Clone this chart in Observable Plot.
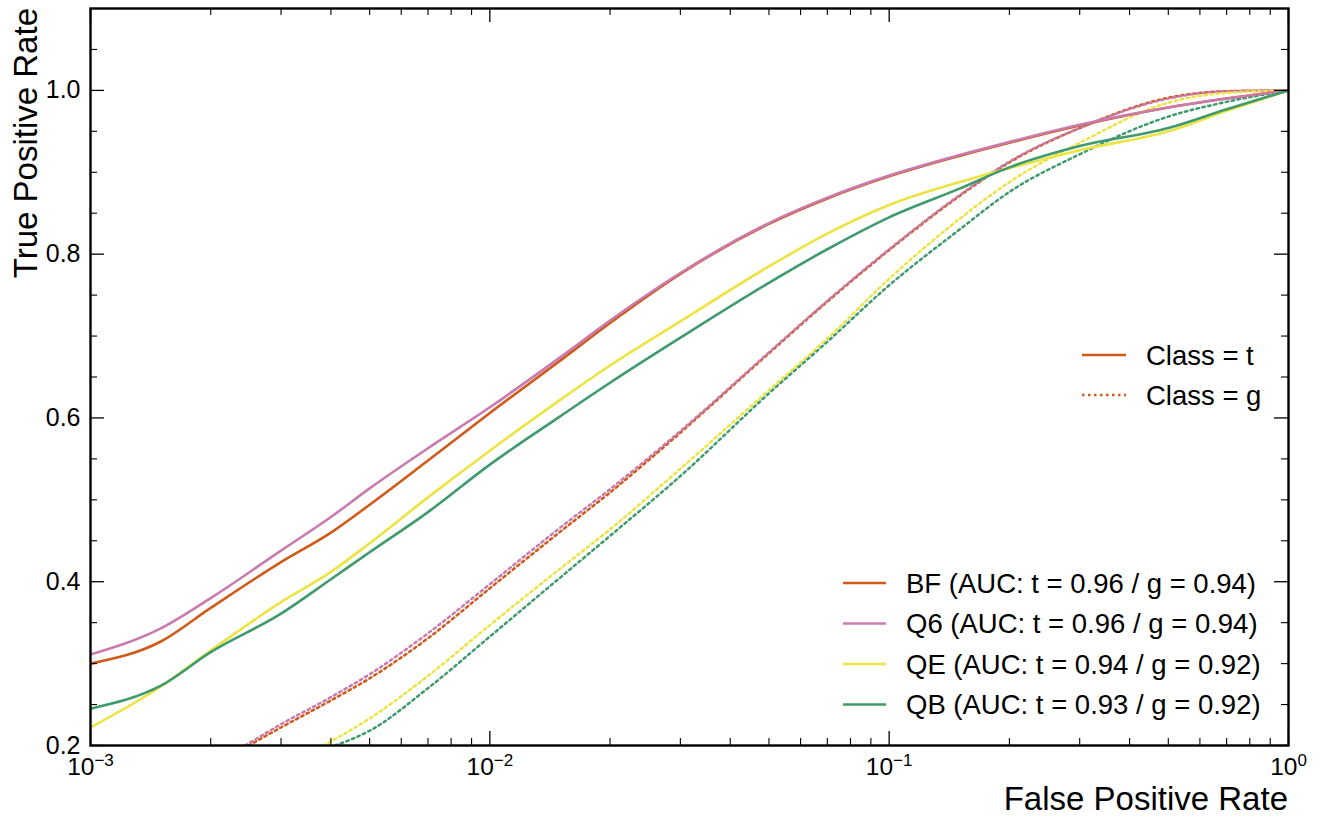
<!DOCTYPE html>
<html><head><meta charset="utf-8">
<script src="https://cdn.jsdelivr.net/npm/d3@7"></script>
<script src="https://cdn.jsdelivr.net/npm/@observablehq/plot@0.6"></script>
<style>
body{margin:0;background:#fff}
#chart svg{font-family:"Liberation Sans",Arial,Helvetica,sans-serif;background:#fff}
</style>
</head><body><div id="chart"></div>
<script>
// ---- data ----
const models = ["BF", "Q6", "QE", "QB"];
const modelColors = ["#cf5a1a", "#c97bad", "#ebe443", "#3f9a6e"];
const aucT = ["0.96", "0.96", "0.94", "0.93"];
const aucG = ["0.94", "0.94", "0.92", "0.92"];

// class t (solid)
const fprT = [0.001,0.0015,0.002,0.003,0.004,0.005,0.007,0.01,0.015,0.02,0.03,0.05,0.07,0.1,0.15,0.2,0.3,0.5,0.7,1.0];
const tprBF_t = [0.300,0.327,0.368,0.424,0.460,0.494,0.548,0.606,0.670,0.716,0.776,0.837,0.868,0.895,0.920,0.936,0.957,0.979,0.990,1.0];
const tprQ6_t = [0.311,0.343,0.380,0.438,0.479,0.514,0.563,0.613,0.674,0.719,0.777,0.838,0.869,0.896,0.921,0.937,0.958,0.979,0.990,1.0];
const tprQE_t = [0.222,0.272,0.316,0.375,0.412,0.447,0.503,0.560,0.622,0.664,0.718,0.785,0.825,0.860,0.888,0.905,0.927,0.950,0.975,1.0];
const tprQB_t = [0.245,0.273,0.314,0.361,0.403,0.436,0.485,0.543,0.602,0.643,0.698,0.765,0.806,0.845,0.880,0.906,0.932,0.954,0.977,1.0];

// class g (dotted)
const fprBF_g = [0.00249,0.003,0.004,0.005,0.007,0.01,0.015,0.02,0.03,0.05,0.07,0.1,0.15,0.2,0.3,0.5,0.7,1.0];
const tprBF_g = [0.200,0.222,0.255,0.282,0.331,0.392,0.461,0.509,0.582,0.679,0.742,0.805,0.871,0.912,0.954,0.991,0.999,1.0];
const fprQ6_g = [0.00244,0.003,0.004,0.005,0.007,0.01,0.015,0.02,0.03,0.05,0.07,0.1,0.15,0.2,0.3,0.5,0.7,1.0];
const tprQ6_g = [0.200,0.226,0.259,0.287,0.337,0.397,0.466,0.513,0.584,0.680,0.743,0.806,0.872,0.913,0.954,0.990,0.999,1.0];
const fprQE_g = [0.00383,0.005,0.007,0.01,0.015,0.02,0.03,0.05,0.07,0.1,0.15,0.2,0.3,0.5,0.7,1.0];
const tprQE_g = [0.200,0.233,0.285,0.347,0.416,0.464,0.538,0.634,0.697,0.770,0.843,0.888,0.936,0.985,0.997,1.0];
const fprQB_g = [0.0041,0.005,0.007,0.01,0.015,0.02,0.03,0.05,0.07,0.1,0.15,0.2,0.3,0.5,0.7,1.0];
const tprQB_g = [0.200,0.218,0.270,0.333,0.405,0.456,0.529,0.630,0.693,0.762,0.830,0.876,0.922,0.968,0.986,1.0];

// ticks
const xMajor = [0.001, 0.01, 0.1, 1];
const xMajorExp = ["\u22123", "\u22122", "\u22121", "0"];
const xMinor = [2,3,4,5,6,7,8,9].flatMap(m => [m*0.001, m*0.01, m*0.1]);
const yMajor = [0.2, 0.4, 0.6, 0.8, 1.0];
const yMinor = [0.25,0.3,0.35,0.45,0.5,0.55,0.65,0.7,0.75,0.85,0.9,0.95,1.05];
const classLabels = ["Class = t", "Class = g"];

// ---- build tables ----
const solidRows = [];
const dottedRows = [];
const tT = [tprBF_t, tprQ6_t, tprQE_t, tprQB_t];
const fG = [fprBF_g, fprQ6_g, fprQE_g, fprQB_g];
const tG = [tprBF_g, tprQ6_g, tprQE_g, tprQB_g];
models.forEach((m, i) => {
  fprT.forEach((f, j) => solidRows.push({model: m, fpr: f, tpr: tT[i][j]}));
  fG[i].forEach((f, j) => dottedRows.push({model: m, fpr: f, tpr: tG[i][j]}));
});
const expOf = new Map(xMajor.map((v, i) => [v, xMajorExp[i]]));

const W = 1323, H = 816, mL = 90, mR = 35, mT = 8, mB = 71;
const innerW = W - mL - mR, innerH = H - mT - mB;
const majLen = 14, minLen = 7;

const plot = Plot.plot({
  width: W, height: H,
  marginLeft: mL, marginRight: mR, marginTop: mT, marginBottom: mB,
  x: {type: "log", domain: [0.001, 1]},
  y: {domain: [0.2, 1.1]},
  color: {domain: models, range: modelColors},
  style: {fontFamily: '"Liberation Sans", Arial, sans-serif', background: "#fff"},
  marks: [
    Plot.line(dottedRows, {x: "fpr", y: "tpr", z: "model", stroke: "model", strokeWidth: 2.5,
      strokeDasharray: "2.5,3.5", curve: "monotone-x", clip: true}),
    Plot.line(solidRows, {x: "fpr", y: "tpr", z: "model", stroke: "model", strokeWidth: 2.6,
      curve: "monotone-x", clip: true}),
    Plot.tickX(xMajor, {x: d => d, insetTop: innerH - majLen, stroke: "black", strokeWidth: 1.3}),
    Plot.tickX(xMajor, {x: d => d, insetBottom: innerH - majLen, stroke: "black", strokeWidth: 1.3}),
    Plot.tickX(xMinor, {x: d => d, insetTop: innerH - minLen, stroke: "black", strokeWidth: 1.1}),
    Plot.tickX(xMinor, {x: d => d, insetBottom: innerH - minLen, stroke: "black", strokeWidth: 1.1}),
    Plot.tickY(yMajor, {y: d => d, insetRight: innerW - majLen, stroke: "black", strokeWidth: 1.3}),
    Plot.tickY(yMajor, {y: d => d, insetLeft: innerW - majLen, stroke: "black", strokeWidth: 1.3}),
    Plot.tickY(yMinor, {y: d => d, insetRight: innerW - minLen, stroke: "black", strokeWidth: 1.1}),
    Plot.tickY(yMinor, {y: d => d, insetLeft: innerW - minLen, stroke: "black", strokeWidth: 1.1}),
    Plot.axisY(yMajor, {anchor: "left", tickSize: 0, tickPadding: 10, fontSize: 25, label: null,
      tickFormat: d => d.toFixed(1), color: "black"}),
    Plot.axisX(xMajor, {anchor: "bottom", tickSize: 0, tickPadding: 12, fontSize: 24.5, label: null,
      tickFormat: d => "10^" + expOf.get(d), color: "black"}),
    Plot.frame({stroke: "black", strokeWidth: 2.4})
  ]
});

const svg = d3.select(plot);
svg.selectAll('g[aria-label="y-axis tick label"]').attr("font-size", 25);
svg.selectAll('g[aria-label="y-axis tick label"] text').style("font-size", "25px");
svg.selectAll('g[aria-label="x-axis tick label"]').attr("font-size", 24.5);
svg.selectAll('g[aria-label="x-axis tick label"] text').each(function() {
  const t = d3.select(this);
  const parts = t.text().split("^");
  t.text(null).style("font-size", "24.5px");
  t.append("tspan").text(parts[0]);
  t.append("tspan").attr("dy", "-0.5em").style("font-size", "17px").text(parts[1]);
});

// axis titles
svg.append("text").attr("x", W - mR).attr("y", 810).attr("text-anchor", "end")
  .style("font-size", "33px").attr("fill", "black").text("False Positive Rate");
svg.append("text").attr("transform", `translate(37,${mT}) rotate(-90)`).attr("text-anchor", "end")
  .style("font-size", "33px").attr("fill", "black").text("True Positive Rate");

// model legend
const lg = svg.append("g");
models.forEach((m, i) => {
  const y = 583 + i * 40.5;
  lg.append("line").attr("x1", 843).attr("x2", 886).attr("y1", y).attr("y2", y)
    .attr("stroke", modelColors[i]).attr("stroke-width", 2.6);
  lg.append("text").attr("x", 906).attr("y", y).attr("dy", "0.36em").attr("text-anchor", "start")
    .style("font-size", "27.5px").attr("fill", "black")
    .text(`${m} (AUC: t = ${aucT[i]} / g = ${aucG[i]})`);
});
// class legend
const cg = svg.append("g");
classLabels.forEach((c, i) => {
  const y = 355 + i * 40;
  cg.append("line").attr("x1", 1082).attr("x2", 1126).attr("y1", y).attr("y2", y)
    .attr("stroke", modelColors[0]).attr("stroke-width", i === 0 ? 2.6 : 2.5)
    .attr("stroke-dasharray", i === 0 ? null : "2.5,3.5");
  cg.append("text").attr("x", 1146).attr("y", y).attr("dy", "0.36em").attr("text-anchor", "start")
    .style("font-size", "27.5px").attr("fill", "black").text(c);
});

document.getElementById("chart").appendChild(plot);
</script>
</body></html>
